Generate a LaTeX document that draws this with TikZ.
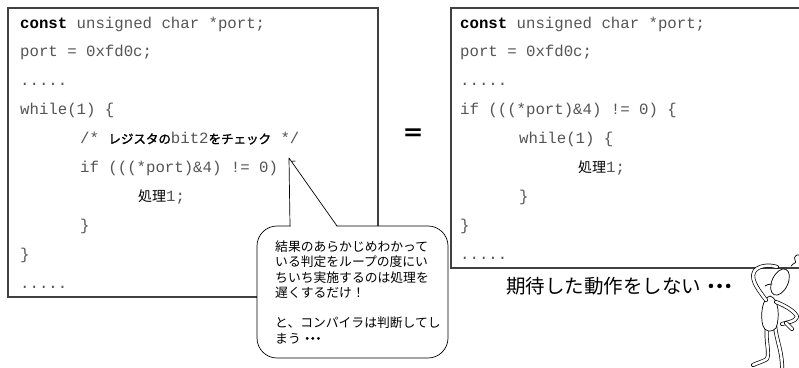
\documentclass[tikz,border=0pt]{standalone}
\usepackage{fontspec}
\setmainfont{Liberation Sans}
\setmonofont{Liberation Mono}
\newfontfamily\jp{Noto Sans CJK JP}
\newfontfamily\jpheavy[FakeBold=1.6]{Noto Sans CJK JP}
\definecolor{codegray}{HTML}{555555}
\definecolor{framegray}{HTML}{404040}
\tikzset{
  code/.style={anchor=base west, inner sep=0pt, text=codegray,
    font=\fontsize{15.7}{18}\selectfont\ttfamily},
  frame/.style={draw=framegray, line width=1.1pt},
  fig/.style={line width=0.7pt, line cap=round, line join=round},
  tube/.style={fig, double=white, double distance=2.6pt},
}
\newcommand{\kwconst}{{\bfseries\color{black}const}}
\newcommand{\jpc}[1]{{\jp\fontsize{14}{16}\selectfont\color{black}#1}}
\newcommand{\jpcb}[1]{{\jpheavy\fontsize{12.5}{15}\selectfont\color{black}#1}}
% narrow run of three middle dots
\newcommand{\jdots}{{\jpheavy ・\kern-.56em・\kern-.56em・}}
\begin{document}
\begin{tikzpicture}[x=1pt, y=-1pt]
  \useasboundingbox[fill=white] (0,0) rectangle (799,367);

  % ---- left listing ----
  \draw[frame] (8,8) rectangle (378,297);
  \node[code] (l0) at (20, 28.0) {\kwconst{} unsigned char *port;};
  \node[code] (l1) at (20, 56.9) {port = 0xfd0c;};
  \node[code] (l2) at (20, 85.8) {.....};
  \node[code] (l3) at (20,114.7) {while(1) \{};
  \node[code] (l4) at (80,143.6) {/* \jpcb{レジスタの}bit2\jpcb{をチェック} */};
  \node[code] (l5) at (80,172.5) {if (((*port)\&4) != 0) \{};
  \node[code] (l6) at (138,201.4) {\jpc{処理}1;};
  \node[code] (l7) at (80,230.3) {\}};
  \node[code] (l8) at (20,259.2) {\}};
  \node[code] (l9) at (20,288.1) {.....};

  % ---- equals sign ----
  \node[inner sep=0pt, font=\jp\bfseries\fontsize{22}{22}\selectfont] (eq) at (413,135) {＝};

  % ---- right listing (open on the right) ----
  \draw[frame] (799,8) -- (451,8) -- (451,268) -- (799,268);
  \node[code] (r0) at (460, 28.0) {\kwconst{} unsigned char *port;};
  \node[code] (r1) at (460, 56.9) {port = 0xfd0c;};
  \node[code] (r2) at (460, 85.8) {.....};
  \node[code] (r3) at (460,114.7) {if (((*port)\&4) != 0) \{};
  \node[code] (r4) at (519,143.6) {while(1) \{};
  \node[code] (r5) at (578,172.5) {\jpc{処理}1;};
  \node[code] (r6) at (519,201.4) {\}};
  \node[code] (r7) at (460,230.3) {\}};
  \node[code] (r8) at (460,259.2) {.....};

  % ---- speech balloon ----
  \coordinate (tip) at (289,158);
  \draw[fig, fill=white, rounded corners=20pt] (257,226) rectangle (448,358);
  \fill[white] (290.6,227) -- (tip) -- (336.8,227) -- cycle;
  \draw[fig] (290,226) -- (tip) -- (337,226);
  \node[anchor=north west, inner sep=0pt, align=left,
        font=\jp\fontsize{12.8}{15.3}\selectfont] (note) at (275,240.5)
    {結果のあらかじめわかって\\いる判定をループの度にい\\ちいち実施するのは処理を\\遅くするだけ！\\[15.3pt]と、コンパイラは判断してし\\まう\jdots};

  % ---- caption ----
  \node[anchor=west, inner sep=0pt, font=\jp\fontsize{19.5}{22}\selectfont] (cap) at (506,286)
    {期待した動作をしない\jdots};

  % ---- puzzled figure ----
  % legs
  \draw[tube] (767,325) .. controls (765,340) and (770,352) .. (767,359)
              .. controls (762,362) and (757,363) .. (753,365);
  \draw[tube] (775,325) .. controls (776,340) and (783,352) .. (782,372);
  % body
  \draw[fig, fill=white] (770,296) .. controls (779,298) and (780,318) .. (776,328)
     .. controls (772,333) and (765,332) .. (763,326)
     .. controls (760,316) and (762,298) .. (770,296) -- cycle;
  % arm on hip
  \draw[tube] (776,302) .. controls (786,306) and (796,312) .. (797,317)
              .. controls (795,322) and (788,322) .. (782,324);
  \draw[tube] (786,323) -- (792,329);
  % head
  \draw[fig, fill=white, rotate around={-25:(780,282)}] (780,282) ellipse [x radius=8, y radius=14];
  \draw[fig] (772,284) .. controls (769,284) and (766,285) .. (765,286);
  % arm raised to the head
  \draw[tube] (766,300) .. controls (760,292) and (750,280) .. (754,272)
              .. controls (757,266) and (768,264) .. (777,267);
  % puzzlement curl
  \draw[fig] (791,266) .. controls (794,262) and (797,264) .. (795,260)
             .. controls (793,257) and (797,254) .. (799,255);
\end{tikzpicture}
\end{document}
